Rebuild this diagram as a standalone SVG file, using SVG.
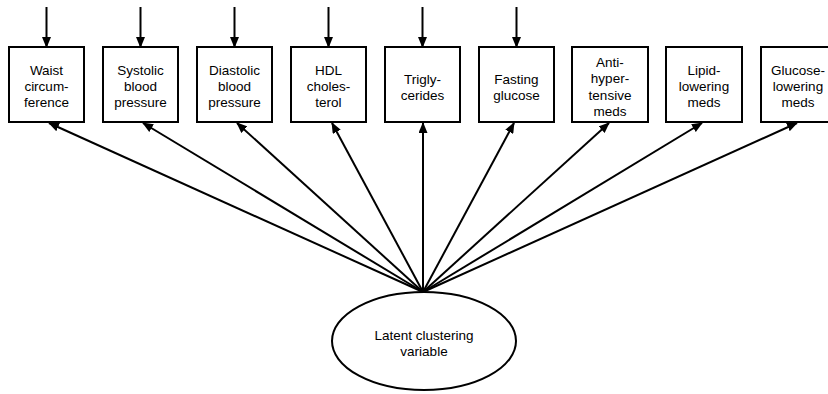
<svg xmlns="http://www.w3.org/2000/svg" width="828" height="394" viewBox="0 0 828 394">
<style>
.box rect{fill:#fff;stroke:#000;stroke-width:2}
text{font-family:"Liberation Sans",Arial,sans-serif;font-size:13.5px;fill:#000;text-anchor:middle}
.conn line{stroke:#000;stroke-width:2}
.lat ellipse{fill:#fff;stroke:#000;stroke-width:2}
</style>
<defs>
<marker id="ah" markerUnits="userSpaceOnUse" markerWidth="11" markerHeight="9" refX="10" refY="4.5" orient="auto">
<path d="M0,0 L11,4.5 L0,9 z" fill="#000"/>
</marker>
</defs>
<rect width="828" height="394" fill="#fff"/>
<g id="n1" class="box"><rect x="9" y="47" width="75" height="75"/><text x="46.5" y="75">Waist</text><text x="46.5" y="91">circum-</text><text x="46.5" y="107">ference</text></g>
<g id="n2" class="box"><rect x="103" y="47" width="75" height="75"/><text x="140.5" y="75">Systolic</text><text x="140.5" y="91">blood</text><text x="140.5" y="107">pressure</text></g>
<g id="n3" class="box"><rect x="197" y="47" width="75" height="75"/><text x="234.5" y="75">Diastolic</text><text x="234.5" y="91">blood</text><text x="234.5" y="107">pressure</text></g>
<g id="n4" class="box"><rect x="291" y="47" width="75" height="75"/><text x="328.5" y="75">HDL</text><text x="328.5" y="91">choles-</text><text x="328.5" y="107">terol</text></g>
<g id="n5" class="box"><rect x="385" y="47" width="75" height="75"/><text x="422.5" y="84">Trigly-</text><text x="422.5" y="100">cerides</text></g>
<g id="n6" class="box"><rect x="479" y="47" width="75" height="75"/><text x="516.5" y="84">Fasting</text><text x="516.5" y="100">glucose</text></g>
<g id="n7" class="box"><rect x="572" y="47" width="76" height="75"/><text x="610" y="67">Anti-</text><text x="610" y="83">hyper-</text><text x="610" y="99.5">tensive</text><text x="610" y="116">meds</text></g>
<g id="n8" class="box"><rect x="666" y="47" width="76" height="75"/><text x="704" y="75">Lipid-</text><text x="704" y="91">lowering</text><text x="704" y="107">meds</text></g>
<g id="n9" class="box"><rect x="761" y="47" width="75" height="75"/><text x="798" y="75">Glucose-</text><text x="798" y="91">lowering</text><text x="798" y="107">meds</text></g>
<g id="latent" class="lat"><ellipse cx="424" cy="341" rx="92" ry="49"/><text x="424" y="340">Latent clustering</text><text x="424" y="356">variable</text></g>
<g id="connectors" class="conn">
<line x1="46.5" y1="7" x2="46.5" y2="47" marker-end="url(#ah)"/>
<line x1="140.5" y1="7" x2="140.5" y2="47" marker-end="url(#ah)"/>
<line x1="234.5" y1="7" x2="234.5" y2="47" marker-end="url(#ah)"/>
<line x1="328.5" y1="7" x2="328.5" y2="47" marker-end="url(#ah)"/>
<line x1="422.5" y1="7" x2="422.5" y2="47" marker-end="url(#ah)"/>
<line x1="516.5" y1="7" x2="516.5" y2="47" marker-end="url(#ah)"/>
<line x1="423" y1="292" x2="49" y2="123" marker-end="url(#ah)"/>
<line x1="423" y1="292" x2="143" y2="123" marker-end="url(#ah)"/>
<line x1="423" y1="292" x2="237" y2="123" marker-end="url(#ah)"/>
<line x1="423" y1="292" x2="332" y2="123" marker-end="url(#ah)"/>
<line x1="423" y1="292" x2="423" y2="123" marker-end="url(#ah)"/>
<line x1="423" y1="292" x2="514" y2="123" marker-end="url(#ah)"/>
<line x1="423" y1="292" x2="609" y2="123" marker-end="url(#ah)"/>
<line x1="423" y1="292" x2="702" y2="123" marker-end="url(#ah)"/>
<line x1="423" y1="292" x2="797" y2="123" marker-end="url(#ah)"/>
</g>
</svg>
